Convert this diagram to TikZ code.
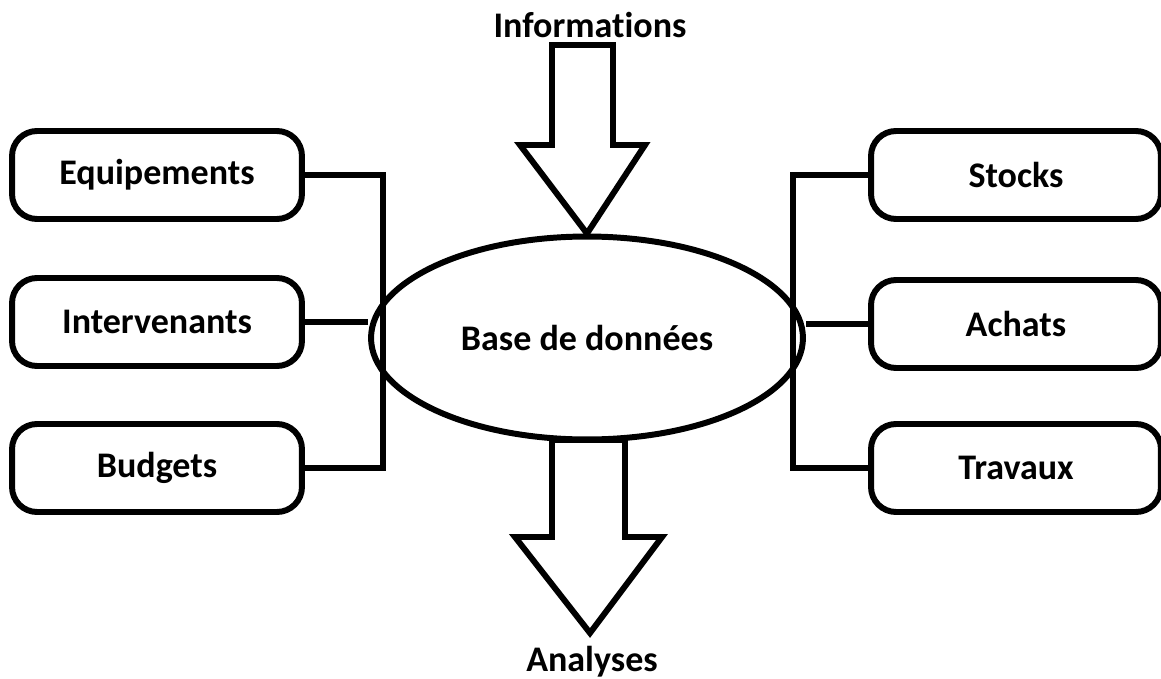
\documentclass[tikz,border=0pt]{standalone}
\usepackage{fontspec}
\setmainfont{Carlito}[Ligatures=NoCommon]
\usepackage{tikz}
\usetikzlibrary{shapes}
\usetikzlibrary{positioning}

\begin{document}
\begin{tikzpicture}[x=0.02cm,y=-0.02cm,line width=3.4pt,font=\fontsize{20.5}{24}\selectfont\bfseries]
\tikzstyle{module}=[draw,rounded corners=0.5cm,minimum width=5.8cm,minimum height=1.76cm]
\tikzstyle{bigarrow}=[draw,fill=white,line join=miter]
\useasboundingbox (0,0) rectangle (1161,679);
% base centrale
\node[draw,ellipse,minimum width=8.64cm,minimum height=4.06cm] (base) at (587,338) {Base de donn\'ees};
% modules gauche
\node[module] (equip) at (157,175) {Equipements};
\node[module] (interv) at (157,322) {Intervenants};
\node[module] (budgets) at (157,468) {Budgets};
% modules droite
\node[module] (stocks) at (1016,175) {Stocks};
\node[module] (achats) at (1016,324) {Achats};
\node[module] (travaux) at (1016,468) {Travaux};
% liaisons
\coordinate (lbot) at (383,468);
\coordinate (rbot) at (793,468);
\draw (equip.east) -| (lbot) -- (budgets.east);
\draw (interv.east) -- (interv.east -| base.west);
\draw (stocks.west) -| (rbot) -- (travaux.west);
\draw (achats.west) -- (achats.west -| base.east);
% fleches
\node (info) at (590,25) {Informations};
\node (analyses) at (592,662) {Analyses};
\draw[bigarrow] (552,45) -- (613,45) -- (613,145) -- (645,145) -- (base.north) -- (520,145) -- (552,145) -- cycle;
\draw[bigarrow] (552,440) -- (625,440) -- (625,537) -- (662,537) -- (590,633) -- (515,537) -- (552,537) -- cycle;
\end{tikzpicture}
\end{document}
